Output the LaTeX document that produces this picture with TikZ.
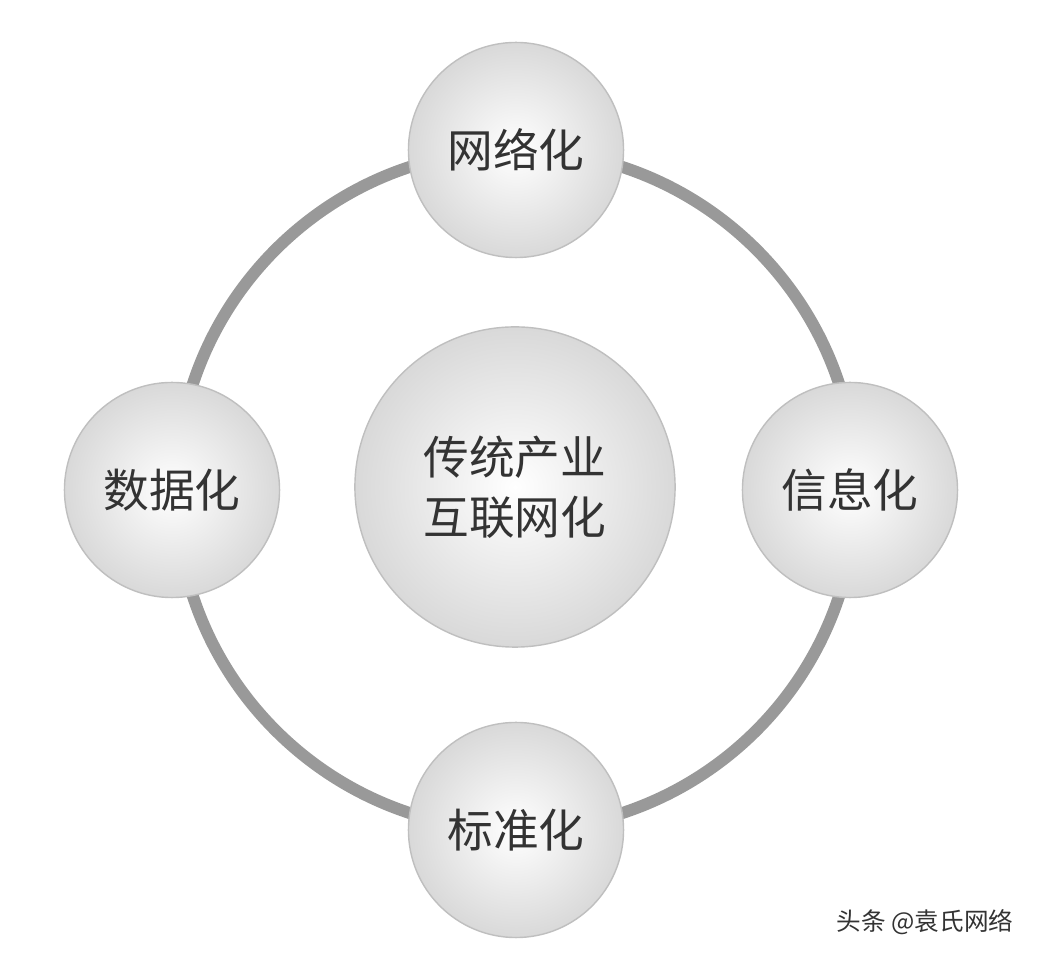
\documentclass[tikz,border=0pt]{standalone}
\usepackage{fontspec}
\newfontfamily\cjk{Noto Sans CJK SC}
\usetikzlibrary{positioning}
\begin{document}
\begin{tikzpicture}[x=0.01cm,y=-0.01cm,
    ball/.style={circle,inner sep=0pt,minimum size=#1,draw=gray!50,
        inner color=white,outer color=gray!30,font=\cjk\fontsize{13pt}{17pt}\selectfont,
        text=black!80,align=center},
    ring/.style={draw=gray!80,line width=3.4pt}]

    \useasboundingbox (0,0) rectangle (1044,958);

    % the ring
    \draw[ring] (516,490) circle (340);

    % the balls
    \node[ball=3.2cm] (core) at (515,487) {传统产业\\互联网化};
    \node[ball=2.15cm] (net) at (516,150) {网络化};
    \node[ball=2.15cm] (info) at (850,490) {信息化};
    \node[ball=2.15cm] (std) at (516,830) {标准化};
    \node[ball=2.15cm] (data) at (172,490) {数据化};

    % the mark
    \node[font=\cjk\fontsize{7pt}{9pt}\selectfont,text=black!80] (mark) at (925,922) {头条 @袁氏网络};
\end{tikzpicture}
\end{document}
